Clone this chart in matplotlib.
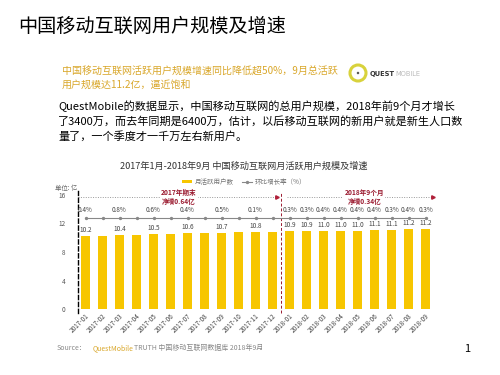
import numpy as np
import matplotlib
matplotlib.use("Agg")
import matplotlib.pyplot as plt
from matplotlib.patches import Ellipse

plt.rcParams['font.family'] = ['Noto Sans CJK SC', 'DejaVu Sans']

months = ["2017-01", "2017-02", "2017-03", "2017-04", "2017-05", "2017-06", "2017-07",
          "2017-08", "2017-09", "2017-10", "2017-11", "2017-12",
          "2018-01", "2018-02", "2018-03", "2018-04", "2018-05", "2018-06",
          "2018-07", "2018-08", "2018-09"]
# monthly active users (亿); unlabeled 2017 bars
mau = [10.2, 10.3, 10.4, 10.45, 10.5, 10.55, 10.6, 10.65, 10.7, 10.75, 10.8, 10.85,
       10.9, 10.9, 11.0, 11.0, 11.0, 11.1, 11.1, 11.2, 11.2]
mau_shown = [True, False, True, False, True, False, True, False, True, False, True, False,
             True, True, True, True, True, True, True, True, True]
# month-on-month growth (%), None where the chart shows no label
growth = [0.4, None, 0.8, None, 0.6, None, 0.4, None, 0.5, None, 0.1, None,
          0.3, 0.3, 0.4, 0.4, 0.4, 0.4, 0.3, 0.4, 0.3]

W, H = 500, 375
def fx(px):
    return px / W
def fy(py):
    return 1 - py / H

fig = plt.figure(figsize=(5, 3.75), dpi=100)

# slide text
fig.text(fx(18), fy(26), "中国移动互联网用户规模及增速", fontsize=13.8, color="black", va="center")
fig.text(fx(62), fy(72), "中国移动互联网活跃用户规模增速同比降低超50%，9月总活跃",
         fontsize=7.2, color="#D9A72A", va="center")
fig.text(fx(62), fy(85), "用户规模达11.2亿，逼近饱和", fontsize=7.2, color="#D9A72A", va="center")

# logo
fig.patches.append(Ellipse((fx(358), fy(73)), 16 / W, 16 / H, transform=fig.transFigure,
                           facecolor="white", edgecolor="#D8D23C", linewidth=2.2))
fig.patches.append(Ellipse((fx(358), fy(73)), 2.5 / W, 2.5 / H, transform=fig.transFigure,
                           facecolor="#555555", edgecolor="none"))
q = fig.text(fx(370), fy(74), "QUEST", fontsize=4.8, fontweight="bold", color="#333333",
             va="center", family=["DejaVu Sans"])

para = ["QuestMobile的数据显示，中国移动互联网的总用户规模，2018年前9个月才增长",
        "了3400万，而去年同期是6400万，估计，以后移动互联网的新用户就是新生人口数",
        "量了，一个季度才一千万左右新用户。"]
for i, line in enumerate(para):
    fig.text(fx(58), fy(106 + 15 * i), line, fontsize=8.0, color="black", va="center")

# chart
x = np.arange(len(months))
x_left = (78 - 85.5) / 17
x_right = (440 - 85.5) / 17
ax = fig.add_axes([fx(78), fy(309), (440 - 78) / W, 17 * 7.125 / H])
ax.set_xlim(x_left, x_right)
ax.set_ylim(0, 17)

ax.annotate("MOBILE", xy=(1, 0.5), xycoords=q, xytext=(0.3, 0), textcoords="offset points",
            fontsize=4.8, color="#BBBBBB", va="center", family=["DejaVu Sans"],
            annotation_clip=False)

bars = ax.bar(x, mau, width=0.56, color="#F7C600", label="月活跃用户数", zorder=2)
for xi, v, s in zip(x, mau, mau_shown):
    if s:
        ax.annotate(f"{v:.1f}", (xi, v), xytext=(0, 1.5), textcoords="offset points",
                    ha="center", va="bottom", fontsize=4.6, color="#444444")

line_y = np.full(len(x), 12.8)
ax.plot(x, line_y, color="#888888", linewidth=0.8, marker="o", markersize=1.4,
        label="环比增长率（%）", zorder=3)
for xi, g in zip(x, growth):
    if g is not None:
        ax.text(xi, 13.9, f"{g:.1f}%", ha="center", va="center", fontsize=4.6, color="#444444")

# period arrows
arrow_y = 15.7
ax.plot([x_left, 11.25], [arrow_y, arrow_y], color="#999999", linestyle=(0, (1, 1.5)),
        linewidth=0.7, clip_on=False, zorder=1)
ax.plot([11.25], [arrow_y], marker=">", color="#B0203A", markersize=2.5, clip_on=False)
ax.plot([11.85, 20.45], [arrow_y, arrow_y], color="#999999", linestyle=(0, (1, 1.5)),
        linewidth=0.7, clip_on=False, zorder=1)
ax.plot([20.45], [arrow_y], marker=">", color="#B0203A", markersize=2.5, clip_on=False)
ax.text(5.5, 15.7, "2017年期末\n净增0.64亿", ha="center", va="center", fontsize=4.8,
        fontweight="bold", color="#9B1B30", linespacing=1.3,
        bbox=dict(facecolor="white", edgecolor="none", pad=1.0), zorder=5)
ax.text(16.4, 15.7, "2018年9个月\n净增0.34亿", ha="center", va="center", fontsize=4.8,
        fontweight="bold", color="#9B1B30", linespacing=1.3,
        bbox=dict(facecolor="white", edgecolor="none", pad=1.0), zorder=5)

ax.axvline(11.5, ymin=-0.03, ymax=0.97, color="#9B1B30", linestyle=(0, (3, 2)),
           linewidth=0.7, clip_on=False)

for side in ["top", "right", "bottom"]:
    ax.spines[side].set_visible(False)
ax.spines["left"].set_linestyle((0, (3, 2)))
ax.spines["left"].set_linewidth(1.0)
ax.spines["left"].set_bounds(-0.5, 16.5)

ax.set_yticks([0, 4, 8, 12, 16])
ax.tick_params(axis="y", length=0, pad=9, labelsize=4.6, labelcolor="#555555")
ax.set_xticks(x)
ax.set_xticklabels(months, rotation=45, ha="right", rotation_mode="anchor")
ax.tick_params(axis="x", length=0, pad=2, labelsize=4.6, labelcolor="#444444")

fig.text(fx(55), fy(188), "单位: 亿", fontsize=4.6, color="#666666", va="center")

fig.text(fx(244), fy(166), "2017年1月-2018年9月 中国移动互联网月活跃用户规模及增速",
         fontsize=6.6, color="#333333", ha="center", va="center")
fig.legend(handles=[bars, ax.lines[0]], loc="center", bbox_to_anchor=(fx(244), fy(182)),
           ncol=2, frameon=False, fontsize=4.7, handlelength=1.6, handleheight=0.4,
           columnspacing=1.2, handletextpad=0.4, labelcolor="#777777")

# source line
s1 = fig.text(fx(57), fy(348), "Source：", fontsize=5.0, color="#888888", va="center")
s2 = ax.annotate("QuestMobile", xy=(1, 0.5), xycoords=s1, xytext=(4, 0), textcoords="offset points",
                 fontsize=5.0, color="#D9A72A", va="center", annotation_clip=False)
ax.annotate("TRUTH 中国移动互联网数据库 2018年9月", xy=(1, 0.5), xycoords=s2, xytext=(0.5, 0),
            textcoords="offset points", fontsize=5.0, color="#888888", va="center",
            annotation_clip=False)

fig.text(fx(467), fy(349), "1", fontsize=8, color="black", ha="center", va="center")

fig.savefig("out.png", dpi=100)
